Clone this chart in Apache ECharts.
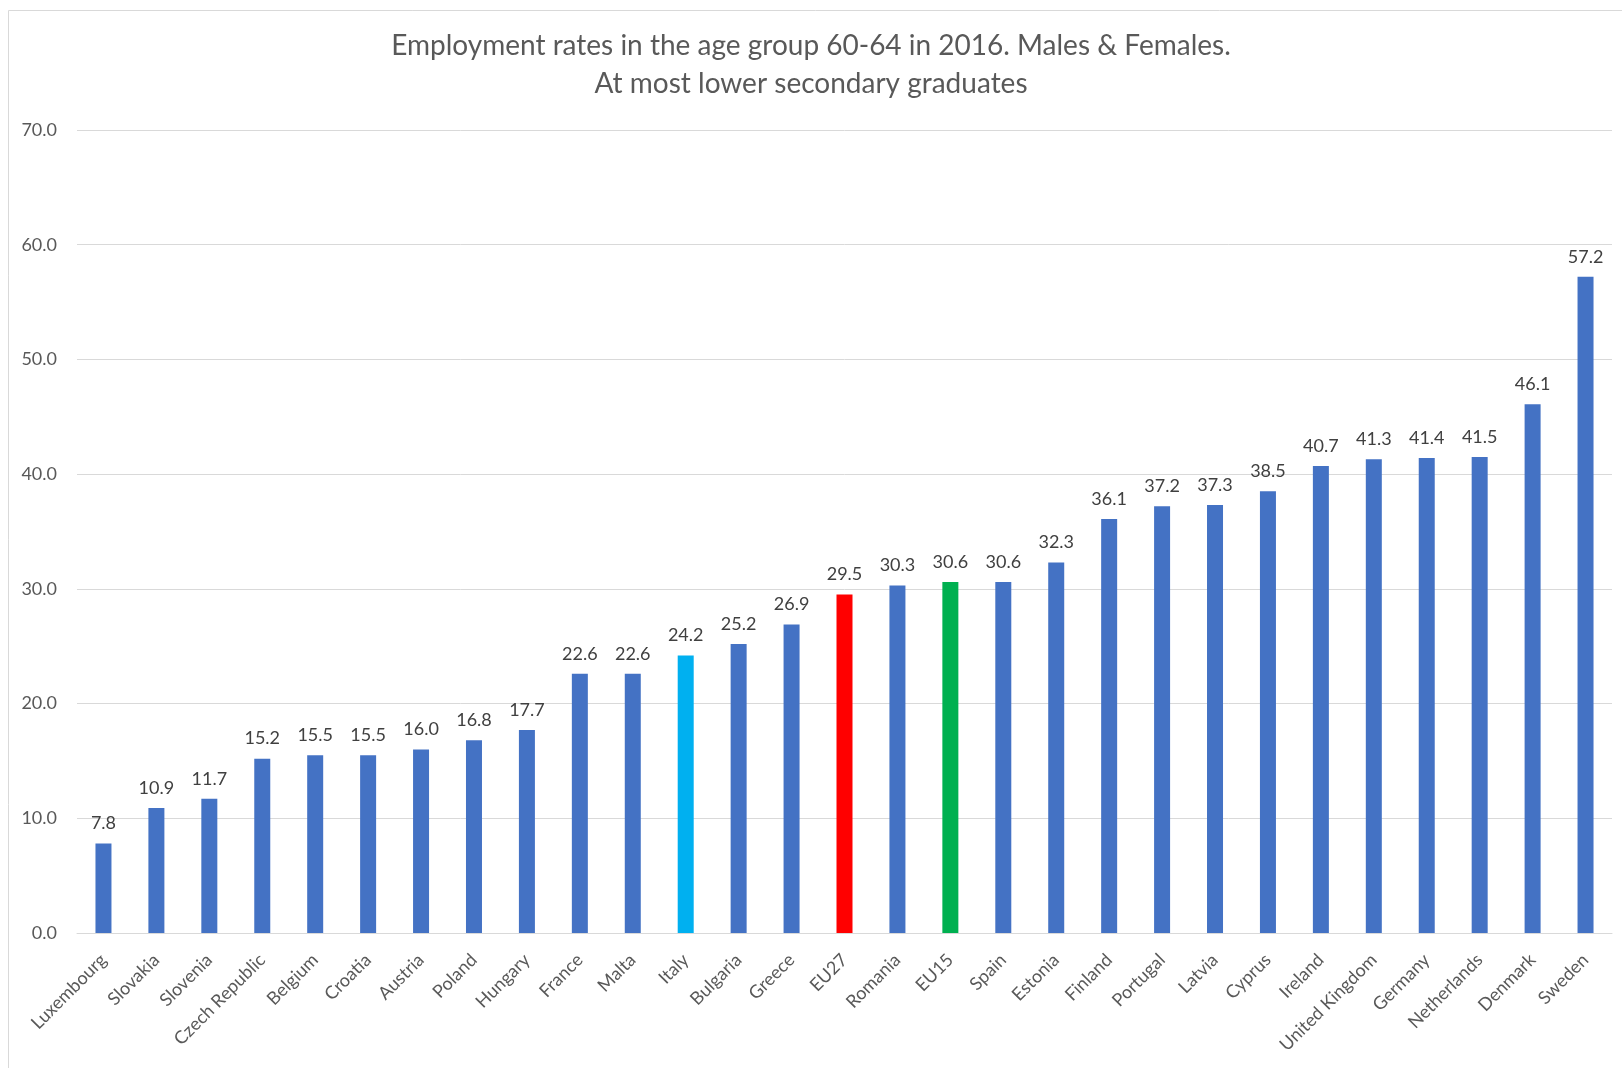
<!DOCTYPE html>
<html>
<head>
<meta charset="utf-8">
<script src="https://cdn.jsdelivr.net/npm/echarts@6/dist/echarts.min.js"></script>
<style>
  html, body { margin: 0; padding: 0; background: #fff; }
  #chart { width: 1622px; height: 1068px; }
</style>
</head>
<body>
<div id="chart"></div>
<script>
// data
const countries = ['Luxembourg', 'Slovakia', 'Slovenia', 'Czech Republic', 'Belgium', 'Croatia', 'Austria',
  'Poland', 'Hungary', 'France', 'Malta', 'Italy', 'Bulgaria', 'Greece', 'EU27', 'Romania', 'EU15',
  'Spain', 'Estonia', 'Finland', 'Portugal', 'Latvia', 'Cyprus', 'Ireland', 'United Kingdom',
  'Germany', 'Netherlands', 'Denmark', 'Sweden'];
const rates = [7.8, 10.9, 11.7, 15.2, 15.5, 15.5, 16.0, 16.8, 17.7, 22.6, 22.6, 24.2, 25.2, 26.9, 29.5,
  30.3, 30.6, 30.6, 32.3, 36.1, 37.2, 37.3, 38.5, 40.7, 41.3, 41.4, 41.5, 46.1, 57.2];
// highlighted bars
const highlight = { 'Italy': '#00B0F0', 'EU27': '#FF0000', 'EU15': '#00B050' };
const yTicks = { min: 0, max: 70, interval: 10 };

const FONT = 'Lato';
const myChart = echarts.init(document.getElementById('chart'));

const option = {
  textStyle: { fontFamily: FONT },
  graphic: [{
    type: 'rect',
    shape: { x: 8.5, y: 10.5, width: 1700, height: 1200 },
    style: { fill: 'none', stroke: '#d9d9d9', lineWidth: 1 },
    silent: true
  }],
  title: {
    text: 'Employment rates in the age group 60-64 in 2016. Males & Females.\nAt most lower secondary graduates',
    left: 'center',
    top: 22,
    textStyle: {
      fontFamily: FONT,
      fontSize: 28,
      fontWeight: 'normal',
      color: '#595959',
      lineHeight: 38
    }
  },
  grid: { left: 77, right: 10, top: 130, bottom: 135, containLabel: false },
  xAxis: {
    type: 'category',
    data: countries,
    axisLine: { lineStyle: { color: '#d9d9d9' } },
    axisTick: { show: false },
    axisLabel: {
      interval: 0,
      rotate: 45,
      margin: 24,
      fontSize: 18,
      color: '#595959',
      fontFamily: FONT
    }
  },
  yAxis: {
    type: 'value',
    min: yTicks.min,
    max: yTicks.max,
    interval: yTicks.interval,
    axisLine: { show: false },
    axisTick: { show: false },
    splitLine: { lineStyle: { color: '#d9d9d9' } },
    axisLabel: {
      margin: 20,
      fontSize: 18,
      color: '#595959',
      fontFamily: FONT,
      formatter: v => v.toFixed(1)
    }
  },
  series: [{
    type: 'bar',
    barWidth: 16,
    data: rates.map((v, i) => ({
      value: v,
      itemStyle: { color: highlight[countries[i]] || '#4472C4' }
    })),
    label: {
      show: true,
      position: 'top',
      distance: 11,
      fontSize: 18,
      color: '#404040',
      fontFamily: FONT,
      formatter: p => p.value.toFixed(1)
    }
  }]
};
myChart.setOption(option);
</script>
</body>
</html>
